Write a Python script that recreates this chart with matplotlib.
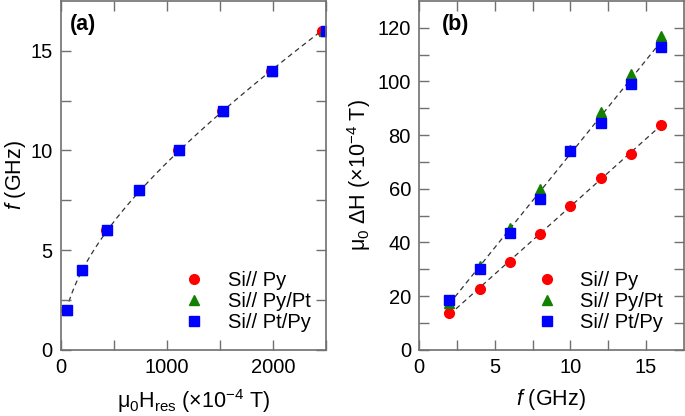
#!/usr/bin/env python3
# -*- coding: utf-8 -*-

import matplotlib as mpl
mpl.use('Agg')
import matplotlib.pyplot as plt
import numpy as np

plt.rcParams['font.family'] = ['Liberation Sans', 'DejaVu Sans']
plt.rcParams['mathtext.fontset'] = 'custom'
plt.rcParams['mathtext.rm'] = 'Liberation Sans'
plt.rcParams['mathtext.it'] = 'Liberation Sans:italic'
plt.rcParams['mathtext.bf'] = 'Liberation Sans:bold'

# frequencies (GHz)
freq = [2, 4, 6, 8, 10, 12, 14, 16]

# panel (a): resonance field (x1e-4 T)
hres_py = [50, 195, 425, 732, 1105, 1518, 1980, 2458]
hres_pypt = [60, 200, 435, 740, 1112, 1525, 1990, 2478]
hres_ptpy = [55, 196, 431, 739, 1113, 1527, 1992, 2500]

# panel (b): linewidth (x1e-4 T)
dh_py = [13.9, 22.7, 32.6, 43.2, 53.5, 64.0, 73.0, 83.9]
dh_pypt = [17.5, 31.3, 45.4, 60.0, 74.3, 88.5, 102.8, 117.0]
dh_ptpy = [18.6, 30.2, 43.4, 56.3, 74.1, 84.4, 99.1, 112.9]

labels = ['Si// Py', 'Si// Py/Pt', 'Si// Pt/Py']
colors = ['#ff0000', '#138000', '#0000ff']
markers = ['o', '^', 's']

fig = plt.figure(figsize=(6.85, 4.16), dpi=100)
ax1 = fig.add_axes([0.089, 0.159, 0.387, 0.839])
ax2 = fig.add_axes([0.612, 0.159, 0.386, 0.839])

spine_col = '#707070'


def style(ax):
	for s in ax.spines.values():
		s.set_color(spine_col)
		s.set_linewidth(1.2)
	ax.tick_params(which='both', direction='in', top=True, right=True,
		color=spine_col, labelsize=14.5, width=1.0, pad=6)
	ax.tick_params(which='major', length=7)
	ax.tick_params(which='minor', length=7)


# (a) Kittel fit: f^2/H = a*H + b, least squares on all data
H_all = np.array(hres_py + hres_pypt + hres_ptpy, dtype=float)
f_all = np.array(freq * 3, dtype=float)
a, b = np.polyfit(H_all, f_all**2 / H_all, 1)
Hfit = np.linspace(75, 2470, 300)
ax1.plot(Hfit, np.sqrt(a * Hfit**2 + b * Hfit), ls=(0, (4, 3)), color='#333333', lw=0.9, zorder=1)

for h, lab, c, m in zip([hres_py, hres_pypt, hres_ptpy], labels, colors, markers):
	ax1.plot(h, freq, ls='none', marker=m, color=c, markersize=7, label=lab, zorder=2)

ax1.set_xlim(0, 2500)
ax1.set_ylim(0, 17.5)
ax1.set_xticks([0, 1000, 2000])
ax1.set_xticks([500, 1500, 2500], minor=True)
ax1.set_yticks([0, 5, 10, 15])
ax1.set_yticks([2.5, 7.5, 12.5], minor=True)
style(ax1)
ax1.set_xlabel('μ$_0$H$_{\\mathrm{res}}$ (×10$^{-4}$ T)', fontsize=15.5, labelpad=7)
ax1.set_ylabel('$\\it{f}$ (GHz)', fontsize=15.5, labelpad=2)
ax1.text(0.035, 0.915, '(a)', transform=ax1.transAxes, fontsize=15.5, fontweight='bold')
ax1.legend(loc='lower right', frameon=False, fontsize=14.5, handletextpad=0.9,
	labelspacing=0.1, bbox_to_anchor=(1.01, 0.0), handlelength=1.5)

# (b) linear fits
fx = np.linspace(2, 16, 50)
p_low = np.polyfit(freq, dh_py, 1)
p_up = np.polyfit(freq * 2, dh_pypt + dh_ptpy, 1)
ax2.plot(fx, np.polyval(p_up, fx), ls=(0, (4, 3)), color='#333333', lw=0.9, zorder=1)
ax2.plot(fx, np.polyval(p_low, fx), ls=(0, (4, 3)), color='#333333', lw=0.9, zorder=1)

for d, lab, c, m in zip([dh_py, dh_pypt, dh_ptpy], labels, colors, markers):
	ax2.plot(freq, d, ls='none', marker=m, color=c, markersize=7, label=lab, zorder=2)

ax2.set_xlim(0, 17.5)
ax2.set_ylim(0, 130)
ax2.set_xticks([0, 5, 10, 15])
ax2.set_xticks([2.5, 7.5, 12.5], minor=True)
ax2.set_yticks([0, 20, 40, 60, 80, 100, 120])
ax2.set_yticks([10, 30, 50, 70, 90, 110], minor=True)
style(ax2)
ax2.set_xlabel('$\\it{f}$ (GHz)', fontsize=15.5, labelpad=7)
ax2.set_ylabel('μ$_0$ ΔH (×10$^{-4}$ T)', fontsize=15.5, labelpad=3)
ax2.text(0.087, 0.915, '(b)', transform=ax2.transAxes, fontsize=15.5, fontweight='bold')
ax2.legend(loc='lower right', frameon=False, fontsize=14.5, handletextpad=0.9,
	labelspacing=0.1, bbox_to_anchor=(0.99, 0.0), handlelength=1.5)

fig.savefig('out.png', dpi=100)
